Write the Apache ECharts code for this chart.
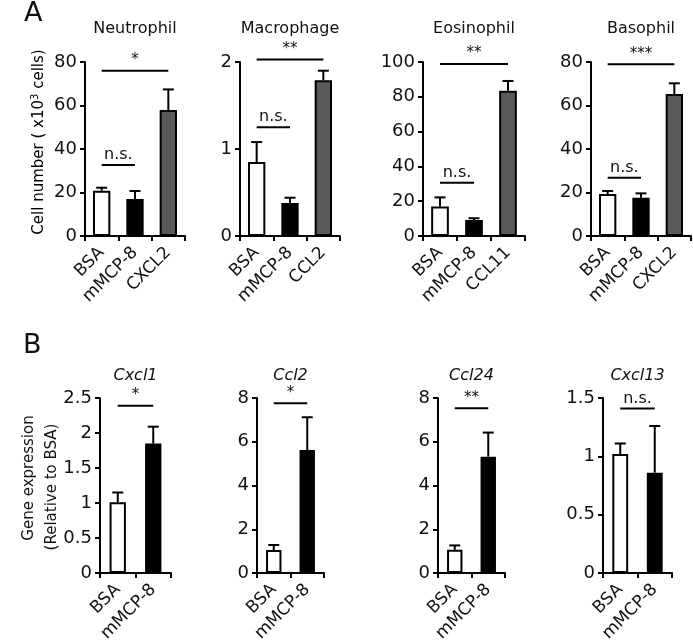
<!DOCTYPE html>
<html><head><meta charset="utf-8">
<script src="https://cdn.jsdelivr.net/npm/echarts@6/dist/echarts.min.js"></script>
<style>html,body{margin:0;padding:0;background:#fff}#c{width:693px;height:641px}</style>
</head><body><div id="c"></div>
<script>
// ---- Data (panel A: cell numbers) ----
const catsNeutrophil = ['BSA','mMCP-8','CXCL2'];
const meanNeutrophil = [20.8, 17.0, 57.9];
const upperNeutrophil = [22.2, 20.7, 67.4];
const sigNeutrophil = [[0, 2, 76, '*'], [0, 1, 32.6, 'n.s.']];

const catsMacrophage = ['BSA','mMCP-8','CCL2'];
const meanMacrophage = [0.85, 0.38, 1.79];
const upperMacrophage = [1.08, 0.44, 1.90];
const sigMacrophage = [[0, 2, 2.03, '**'], [0, 1, 1.25, 'n.s.']];

const catsEosinophil = ['BSA','mMCP-8','CCL11'];
const meanEosinophil = [16.9, 9.2, 83.5];
const upperEosinophil = [22.2, 10.2, 89.1];
const sigEosinophil = [[0, 2, 98.9, '**'], [0, 1, 30.6, 'n.s.']];

const catsBasophil = ['BSA','mMCP-8','CXCL2'];
const meanBasophil = [19.3, 17.6, 65.3];
const upperBasophil = [20.7, 19.6, 70.2];
const sigBasophil = [[0, 2, 79, '***'], [0, 1, 26.8, 'n.s.']];

// ---- Data (panel B: gene expression) ----
const catsGene = ['BSA','mMCP-8'];
const meanCxcl1 = [1.01, 1.85];
const upperCxcl1 = [1.15, 2.09];
const sigCxcl1 = [[0, 1, 2.39, '*']];

const meanCcl2 = [1.05, 5.62];
const upperCcl2 = [1.28, 7.12];
const sigCcl2 = [[0, 1, 7.76, '*']];

const meanCcl24 = [1.06, 5.32];
const upperCcl24 = [1.26, 6.42];
const sigCcl24 = [[0, 1, 7.53, '**']];

const meanCxcl13 = [1.02, 0.86];
const upperCxcl13 = [1.11, 1.26];
const sigCxcl13 = [[0, 1, 1.41, 'n.s.']];

// ---- Axis ranges ----
const yMaxA = [80, 2, 100, 80];
const yStepA = [20, 1, 20, 20];
const yMaxB = [2.5, 8, 8, 1.5];
const yStepB = [0.5, 2, 2, 0.5];

const titlesA = ['Neutrophil', 'Macrophage', 'Eosinophil', 'Basophil'];
const titlesB = ['Cxcl1', 'Ccl2', 'Ccl24', 'Cxcl13'];

// ---- Styles ----
const fillsA = ['#ffffff', '#000000', '#595959'];
const fillsB = ['#ffffff', '#000000'];
const FONT = 'DejaVu Sans';
const INK = '#111';

const panels = [
  {cats: catsNeutrophil, mean: meanNeutrophil, upper: upperNeutrophil, sig: sigNeutrophil, max: yMaxA[0], step: yStepA[0], fills: fillsA, title: titlesA[0], italic: false, left: 85, width: 100, top: 62, height: 174, bw: '52%'},
  {cats: catsMacrophage, mean: meanMacrophage, upper: upperMacrophage, sig: sigMacrophage, max: yMaxA[1], step: yStepA[1], fills: fillsA, title: titlesA[1], italic: false, left: 240, width: 100, top: 62, height: 174, bw: '52%'},
  {cats: catsEosinophil, mean: meanEosinophil, upper: upperEosinophil, sig: sigEosinophil, max: yMaxA[2], step: yStepA[2], fills: fillsA, title: titlesA[2], italic: false, left: 423, width: 102, top: 62, height: 174, bw: '52%'},
  {cats: catsBasophil, mean: meanBasophil, upper: upperBasophil, sig: sigBasophil, max: yMaxA[3], step: yStepA[3], fills: fillsA, title: titlesA[3], italic: false, left: 591, width: 100, top: 62, height: 174, bw: '52%'},
  {cats: catsGene, mean: meanCxcl1, upper: upperCxcl1, sig: sigCxcl1, max: yMaxB[0], step: yStepB[0], fills: fillsB, title: titlesB[0], italic: true, left: 100, width: 71, top: 398, height: 175, bw: '46%'},
  {cats: catsGene, mean: meanCcl2, upper: upperCcl2, sig: sigCcl2, max: yMaxB[1], step: yStepB[1], fills: fillsB, title: titlesB[1], italic: true, left: 257, width: 67, top: 398, height: 175, bw: '46%'},
  {cats: catsGene, mean: meanCcl24, upper: upperCcl24, sig: sigCcl24, max: yMaxB[2], step: yStepB[2], fills: fillsB, title: titlesB[2], italic: true, left: 438, width: 67, top: 398, height: 175, bw: '46%'},
  {cats: catsGene, mean: meanCxcl13, upper: upperCxcl13, sig: sigCxcl13, max: yMaxB[3], step: yStepB[3], fills: fillsB, title: titlesB[3], italic: true, left: 603, width: 69, top: 398, height: 175, bw: '46%'}
];

const grid = [], xAxis = [], yAxis = [], series = [], graphic = [];
const axisLine = {show: true, lineStyle: {color: '#000', width: 2}};
const axisTick = {show: true, length: 5, lineStyle: {color: '#000', width: 2}};

panels.forEach((p, i) => {
  grid.push({left: p.left, top: p.top, width: p.width, height: p.height, containLabel: false, outerBoundsMode: 'none'});
  xAxis.push({type: 'category', gridIndex: i, data: p.cats, axisLine, axisTick,
    axisLabel: {rotate: 45, interval: 0, fontSize: 17, fontFamily: FONT, color: INK, margin: 14}});
  yAxis.push({type: 'value', gridIndex: i, min: 0, max: p.max, interval: p.step,
    splitLine: {show: false}, axisLine, axisTick,
    axisLabel: {fontSize: 18, fontFamily: FONT, color: INK, margin: 8}});
  series.push({type: 'custom', xAxisIndex: i, yAxisIndex: i, z: 1,
    data: p.mean.map((v, k) => [k, v, p.upper[k]]),
    renderItem: (params, api) => {
      const a = api.coord([api.value(0), api.value(1)]);
      const b = api.coord([api.value(0), api.value(2)]);
      const st = {stroke: '#000', lineWidth: 2};
      return {type: 'group', children: [
        {type: 'line', shape: {x1: a[0], y1: a[1], x2: b[0], y2: b[1]}, style: st},
        {type: 'line', shape: {x1: b[0] - 5.5, y1: b[1], x2: b[0] + 5.5, y2: b[1]}, style: st}
      ]};
    }});
  series.push({type: 'bar', xAxisIndex: i, yAxisIndex: i, barWidth: p.bw, z: 2,
    data: p.mean.map((v, k) => ({value: v, itemStyle: {color: p.fills[k]}})),
    itemStyle: {borderColor: '#000', borderWidth: 2}});
  series.push({type: 'custom', xAxisIndex: i, yAxisIndex: i, z: 3, clip: false,
    data: p.sig,
    renderItem: (params, api) => {
      const a = api.coord([api.value(0), api.value(2)]);
      const b = api.coord([api.value(1), api.value(2)]);
      const lab = p.sig[params.dataIndex][3];
      const isNs = lab === 'n.s.';
      return {type: 'group', children: [
        {type: 'line', shape: {x1: a[0], y1: a[1], x2: b[0], y2: b[1]}, style: {stroke: '#000', lineWidth: 2}},
        {type: 'text', x: (a[0] + b[0]) / 2, y: a[1] - (isNs ? 2 : 3),
          style: {text: lab, fill: INK, font: (isNs ? '16px ' : '15px ') + '"' + FONT + '"', align: 'center', verticalAlign: 'bottom'}}
      ]};
    }});
  graphic.push({type: 'text', x: p.left + p.width / 2, y: p.italic ? 376 : 29,
    style: {text: p.title, fill: INK, font: (p.italic ? 'italic ' : '') + '16px "' + FONT + '"', align: 'center', verticalAlign: 'middle'}});
});

graphic.push({type: 'text', x: 24, y: 14, style: {text: 'A', fill: INK, font: '27px "' + FONT + '"', align: 'left', verticalAlign: 'middle'}});
graphic.push({type: 'text', x: 23, y: 346, style: {text: 'B', fill: INK, font: '27px "' + FONT + '"', align: 'left', verticalAlign: 'middle'}});
graphic.push({type: 'text', x: 39, y: 142, rotation: Math.PI / 2,
  style: {text: '{n|Cell number ( x10}{s|3}{n| cells)}', align: 'center', verticalAlign: 'middle',
    rich: {n: {fontSize: 15, fontFamily: FONT, color: INK}, s: {fontSize: 10, fontFamily: FONT, color: INK, verticalAlign: 'top', padding: [0, 0, 8, 0]}}}});
graphic.push({type: 'text', x: 29, y: 478, rotation: Math.PI / 2,
  style: {text: 'Gene expression', fill: INK, font: '15px "' + FONT + '"', align: 'center', verticalAlign: 'middle'}});
graphic.push({type: 'text', x: 52, y: 487, rotation: Math.PI / 2,
  style: {text: '(Relative to BSA)', fill: INK, font: '15px "' + FONT + '"', align: 'center', verticalAlign: 'middle'}});

const chart = echarts.init(document.getElementById('c'), null, {renderer: 'canvas'});
chart.setOption({animation: false, backgroundColor: '#fff', grid, xAxis, yAxis, series, graphic});
</script></body></html>
